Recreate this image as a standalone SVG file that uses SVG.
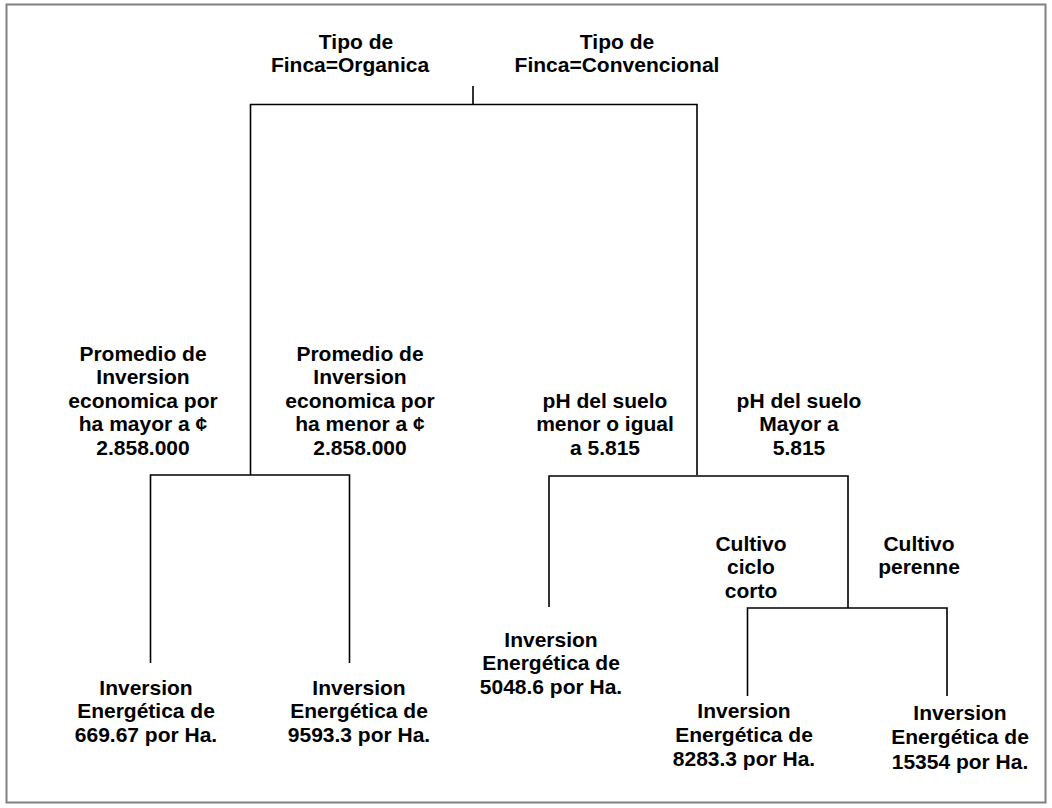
<svg xmlns="http://www.w3.org/2000/svg" width="1052" height="808" viewBox="0 0 1052 808">
<style>
text{font-family:"Liberation Sans",Arial,sans-serif;font-weight:bold;font-size:21px;fill:#000;text-anchor:middle}
.e{fill:none;stroke:#000;stroke-width:1.6}
.frame{fill:none;stroke:#808080;stroke-width:2}
</style>
<rect class="frame" x="6.5" y="4.5" width="1039" height="798"/>
<g id="connectors">
<path class="e" d="M473,86V104.5M250.5,475V104.5H697V475"/>
<path class="e" d="M150.5,663V475H349.5V663"/>
<path class="e" d="M549,607V476H848V608"/>
<path class="e" d="M747.5,696V608H947V696"/>
</g>
<g id="root">
<text x="356" y="49">Tipo de</text>
<text x="350" y="72">Finca=Organica</text>
<text x="617" y="49">Tipo de</text>
<text x="617" y="72">Finca=Convencional</text>
</g>
<g id="n-organica">
<text x="143" y="360.5">Promedio de</text>
<text x="143" y="384">Inversion</text>
<text x="143" y="407.5">economica por</text>
<text x="143" y="431">ha mayor a ¢</text>
<text x="143" y="454.5">2.858.000</text>
<text x="360" y="360.5">Promedio de</text>
<text x="360" y="384">Inversion</text>
<text x="360" y="407.5">economica por</text>
<text x="360" y="431">ha menor a ¢</text>
<text x="360" y="454.5">2.858.000</text>
</g>
<g id="n-convencional">
<text x="605" y="407.5">pH del suelo</text>
<text x="605" y="431">menor o igual</text>
<text x="605" y="454.5">a 5.815</text>
<text x="799" y="407.5">pH del suelo</text>
<text x="799" y="431">Mayor a</text>
<text x="799" y="454.5">5.815</text>
</g>
<g id="n-ph-mayor">
<text x="751" y="550.5">Cultivo</text>
<text x="751" y="574">ciclo</text>
<text x="751" y="597.5">corto</text>
<text x="919" y="550.5">Cultivo</text>
<text x="919" y="574">perenne</text>
</g>
<g id="leaf-1">
<text x="146" y="694.5">Inversion</text>
<text x="146" y="718">Energética de</text>
<text x="146" y="741.5">669.67 por Ha.</text>
</g>
<g id="leaf-2">
<text x="359" y="694.5">Inversion</text>
<text x="359" y="718">Energética de</text>
<text x="359" y="741.5">9593.3 por Ha.</text>
</g>
<g id="leaf-3">
<text x="551" y="646.5">Inversion</text>
<text x="551" y="670">Energética de</text>
<text x="551" y="694">5048.6 por Ha.</text>
</g>
<g id="leaf-4">
<text x="744" y="718">Inversion</text>
<text x="744" y="742">Energética de</text>
<text x="744" y="766">8283.3 por Ha.</text>
</g>
<g id="leaf-5">
<text x="960" y="719.5">Inversion</text>
<text x="960" y="744">Energética de</text>
<text x="960" y="769">15354 por Ha.</text>
</g>
</svg>
